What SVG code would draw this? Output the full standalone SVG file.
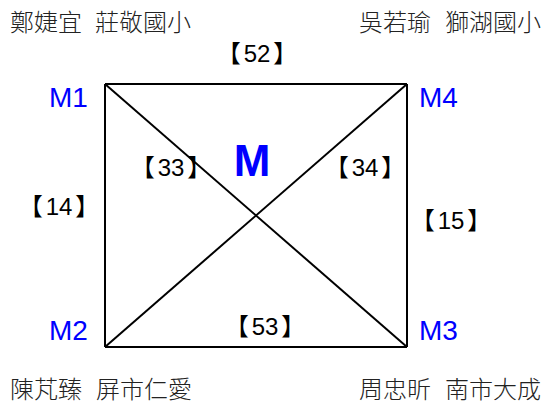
<svg xmlns="http://www.w3.org/2000/svg" width="543" height="405" viewBox="0 0 543 405">
<style>
.name{font-family:"Noto Sans CJK TC","Noto Sans CJK SC",sans-serif;font-size:24px;fill:#222;font-weight:300}
.m{font-family:"Liberation Sans",Arial,sans-serif;font-size:28px;fill:#0000ff}
.lbl{font-family:"Liberation Sans","Noto Sans CJK TC",sans-serif;font-size:24px;fill:#000;text-anchor:middle}
.edge{stroke:#000;stroke-width:2;fill:none}
</style>
<rect width="543" height="405" fill="#fff"/>
<g id="connectors">
<line class="edge" x1="105" y1="84" x2="407" y2="84"/>
<line class="edge" x1="105" y1="347" x2="407" y2="347"/>
<line class="edge" x1="105" y1="84" x2="105" y2="347"/>
<line class="edge" x1="407" y1="84" x2="407" y2="347"/>
<line class="edge" x1="105" y1="84" x2="407" y2="347"/>
<line class="edge" x1="407" y1="84" x2="105" y2="347"/>
</g>
<g id="M1"><text class="m" x="49" y="107">M1</text></g>
<g id="M4"><text class="m" x="419" y="107">M4</text></g>
<g id="M2"><text class="m" x="49" y="340">M2</text></g>
<g id="M3"><text class="m" x="419" y="340">M3</text></g>
<g id="M"><text x="252" y="176" text-anchor="middle" style="font-family:'Liberation Sans',Arial,sans-serif;font-size:44px;font-weight:bold;fill:#0000ff">M</text></g>
<g id="labels">
<text class="lbl" x="257" y="62">【<tspan dx="3">52</tspan><tspan dx="3">】</tspan></text>
<text class="lbl" x="171" y="176">【<tspan dx="3">33</tspan><tspan dx="3">】</tspan></text>
<text class="lbl" x="365" y="176">【<tspan dx="3">34</tspan><tspan dx="3">】</tspan></text>
<text class="lbl" x="59" y="215">【<tspan dx="3">14</tspan><tspan dx="3">】</tspan></text>
<text class="lbl" x="451" y="229">【<tspan dx="3">15</tspan><tspan dx="3">】</tspan></text>
<text class="lbl" x="265" y="335">【<tspan dx="3">53</tspan><tspan dx="3">】</tspan></text>
</g>
<g id="names">
<text class="name" x="10" y="31">鄭婕宜</text>
<text class="name" x="95" y="31">莊敬國小</text>
<text class="name" x="359" y="31">吳若瑜</text>
<text class="name" x="445" y="31">獅湖國小</text>
<text class="name" x="10" y="398">陳芃臻</text>
<text class="name" x="96" y="398">屏市仁愛</text>
<text class="name" x="359" y="398">周忠昕</text>
<text class="name" x="445" y="398">南市大成</text>
</g>
</svg>
